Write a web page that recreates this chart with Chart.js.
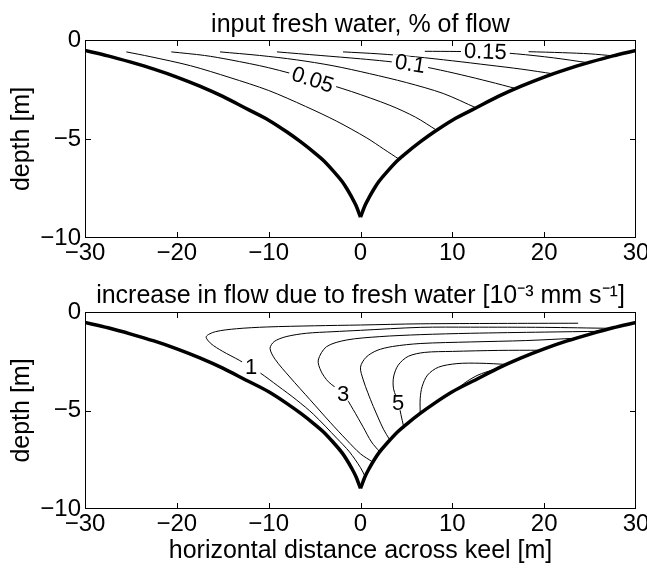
<!DOCTYPE html>
<html>
<head>
<meta charset="utf-8">
<script src="https://cdn.jsdelivr.net/npm/chart.js@4.4.1/dist/chart.umd.min.js"></script>
<style>
  body { margin: 0; background: #fff; }
  canvas { display: block; }
</style>
</head>
<body>
<canvas id="freshChart" width="647" height="270"></canvas>
<canvas id="flowChart" width="647" height="298"></canvas>
<script>

// keel profile (distance from keel centre, depth) - same on both sides
const keelDist  = [0, 0.5, 1, 1.5, 2, 3, 4, 5, 6.5, 8, 10, 12.5, 15, 17.5, 20, 22.5, 25, 27.5, 30];
const keelDepth = [-8.95, -8.35, -7.9, -7.5, -7.15, -6.6, -6.1, -5.7, -5.15, -4.65, -4.05, -3.45, -2.85, -2.33, -1.87, -1.47, -1.12, -0.8, -0.53];

// top panel: input fresh water, % of flow  (contours 0.025 ... 0.175)
const fresh025 = [[-25.5,-0.6],[-22.9,-0.84],[-18.5,-1.3],[-14.2,-1.9],[-10,-2.55],[-6,-3.35],[-2.6,-4.1],[0.7,-4.95],[2.5,-5.5],[4.2,-6.02]];
const fresh050 = [[-20.6,-0.6],[-17,-0.78],[-14.2,-1.0],[-10,-1.4],[-5.2,-2.0],[-1,-2.6],[3.2,-3.3],[6,-3.9],[8.3,-4.56]];
const fresh075 = [[-15.3,-0.6],[-11,-0.78],[-7,-1.0],[-3,-1.3],[1,-1.7],[5,-2.15],[9,-2.7],[12.6,-3.43]];
const fresh100 = [[-9.1,-0.6],[-4.4,-0.78],[0,-0.95],[2.7,-1.07],[5.4,-1.22],[8,-1.45],[11,-1.76],[14,-2.1],[16.9,-2.45]];
const fresh125 = [[-1.9,-0.6],[2,-0.7],[6,-0.85],[10,-1.05],[14,-1.27],[17.5,-1.47],[21,-1.71]];
const fresh150 = [[7.0,-0.57],[10.5,-0.58],[13.6,-0.6],[17,-0.7],[21,-0.9],[24.8,-1.15]];
const fresh175 = [[18.3,-0.59],[22,-0.64],[25,-0.7],[27.5,-0.8]];
const freshLabelText = ['0.05', '0.1', '0.15'];
const freshLabelAt   = [[-5.2,-2.0],[5.4,-1.2],[13.6,-0.58]];

// bottom panel: increase in flow due to fresh water [1e-3 mm/s]  (contours 1 ... 7)
const flow1 = [[23.7,-0.57],[15,-0.58],[6.5,-0.6],[0,-0.66],[-5,-0.7],[-10.2,-0.76],[-13.5,-0.85],[-15.8,-1.0],[-16.8,-1.25],[-16.3,-1.6],[-15,-2.0],[-13.2,-2.45],[-11.9,-2.82],[-10.9,-3.1],[-9,-3.75],[-6.95,-4.47],[-5.1,-5.2],[-2.6,-6.4],[-1.2,-7.1],[0,-7.9],[0.5,-8.35]];
const flow2 = [[27.3,-0.83],[20,-0.78],[12,-0.77],[6.5,-0.78],[0,-0.93],[-3,-1.0],[-5.9,-1.08],[-8.1,-1.25],[-9.4,-1.5],[-9.85,-1.85],[-9.3,-2.4],[-7.7,-3.3],[-5.5,-4.45],[-3.3,-5.6],[-1.5,-6.5],[0,-7.2],[1.35,-7.62]];
const flow3 = [[26.2,-0.98],[20,-1.02],[12,-1.08],[6.5,-1.15],[2.1,-1.25],[-1.5,-1.42],[-3.7,-1.76],[-4.6,-2.44],[-4.3,-3.0],[-3.5,-3.54],[-1.9,-4.15],[-0.8,-4.95],[0.3,-5.85],[1.2,-6.6],[2.1,-7.1]];
const flow4 = [[23.5,-1.33],[18,-1.45],[12,-1.52],[6.5,-1.6],[3.5,-1.75],[1.8,-1.95],[0.6,-2.3],[0,-2.8],[0.3,-3.45],[0.8,-4.1],[1.4,-4.8],[2.5,-5.95],[3.2,-6.5]];
const flow5 = [[19.6,-1.94],[15,-1.95],[10,-2.0],[7,-2.05],[5.2,-2.25],[4.1,-2.7],[3.6,-3.3],[3.6,-3.9],[4.15,-4.65],[4.4,-5.2],[4.7,-5.82]];
const flow6 = [[15.9,-2.66],[13,-2.6],[10.5,-2.62],[8.5,-2.8],[7.3,-3.2],[6.7,-3.8],[6.5,-4.4],[6.5,-5.15]];
const flow7 = [[10.3,-3.98],[11.5,-3.55],[12.8,-3.2],[14.3,-2.95],[15.5,-2.75]];
const flowLabelText = ['1', '3', '5'];
const flowLabelAt   = [[-11.9,-2.8],[-1.9,-4.15],[4.1,-4.63]];

// axis ticks
const xTicks = [-30, -20, -10, 0, 10, 20, 30];
const yTicks = [-10, -5, 0];


Chart.defaults.font.family = '"Liberation Sans", Arial, Helvetica, sans-serif';
Chart.defaults.font.size = 24;
Chart.defaults.color = '#000';

const LABEL_FONT = '22px "Liberation Sans", Arial, Helvetica, sans-serif';

function toPoints(pairs) {
    return pairs.map(p => ({ x: p[0], y: p[1] }));
}

function fmt(v) {
    return v < 0 ? '\u2212' + (-v) : String(v);
}

const keelLeft  = keelDist.map((d, i) => ({ x: -d, y: keelDepth[i] })).reverse();
const keelRight = keelDist.map((d, i) => ({ x: d,  y: keelDepth[i] }));

// box around plot + inward ticks like matlab
const boxTicks = {
    id: 'boxTicks',
    afterDraw(chart) {
        const { ctx, chartArea: a, scales: { x, y } } = chart;
        ctx.save();
        ctx.strokeStyle = '#000';
        ctx.lineWidth = 1;
        ctx.strokeRect(a.left + 0.5, a.top + 0.5, a.width - 1, a.height - 1);
        ctx.beginPath();
        xTicks.forEach(v => {
            if (v <= x.min || v >= x.max) return;
            const px = Math.round(x.getPixelForValue(v)) + 0.5;
            ctx.moveTo(px, a.bottom); ctx.lineTo(px, a.bottom - 6);
            ctx.moveTo(px, a.top);    ctx.lineTo(px, a.top + 6);
        });
        yTicks.forEach(v => {
            if (v <= y.min || v >= y.max) return;
            const py = Math.round(y.getPixelForValue(v)) + 0.5;
            ctx.moveTo(a.left, py);  ctx.lineTo(a.left + 6, py);
            ctx.moveTo(a.right, py); ctx.lineTo(a.right - 6, py);
        });
        ctx.stroke();
        ctx.restore();
    }
};

// contour labels sitting on the lines
const contourLabels = {
    id: 'contourLabels',
    afterDatasetsDraw(chart, args, opts) {
        const { ctx, scales: { x, y } } = chart;
        ctx.font = LABEL_FONT;
        ctx.textAlign = 'center';
        ctx.textBaseline = 'middle';
        opts.text.forEach((t, i) => {
            const px = x.getPixelForValue(opts.at[i][0]);
            const py = y.getPixelForValue(opts.at[i][1]);
            const w = ctx.measureText(t).width;
            ctx.save();
            ctx.translate(px, py);
            ctx.rotate((opts.angles[i] || 0) * Math.PI / 180);
            ctx.fillStyle = '#fff';
            ctx.fillRect(-w / 2 - 3, -7, w + 6, 14);
            ctx.fillStyle = '#000';
            ctx.fillText(t, 0, 1);
            ctx.restore();
        });
    }
};

function makeChart(id, title, contours, labelText, labelAt, angles, xTitle, xHeight, titlePad) {

    const datasets = contours.map(c => ({
        data: toPoints(c),
        borderColor: '#000',
        borderWidth: 1,
        pointRadius: 0,
        showLine: true,
        tension: 0.3
    }));

    [keelLeft, keelRight].forEach(k => datasets.push({
        data: k,
        borderColor: '#000',
        borderWidth: 3.5,
        pointRadius: 0,
        showLine: true,
        cubicInterpolationMode: 'monotone'
    }));

    return new Chart(document.getElementById(id), {
        type: 'scatter',
        data: { datasets },
        plugins: [contourLabels, boxTicks],
        options: {
            responsive: false,
            animation: false,
            layout: { padding: { left: 0, right: 11, top: 0, bottom: 0 } },
            plugins: {
                legend: { display: false },
                tooltip: { enabled: false },
                title: {
                    display: true,
                    fullSize: false,   // centre over the axes, not the canvas
                    text: title,
                    color: '#000',
                    font: { size: 25, weight: 'normal' },
                    padding: titlePad
                },
                contourLabels: { text: labelText, at: labelAt, angles: angles }
            },
            scales: {
                x: {
                    type: 'linear',
                    min: -30,
                    max: 30,
                    grid: { display: false, drawTicks: false },
                    border: { display: false },
                    afterBuildTicks: s => { s.ticks = xTicks.map(v => ({ value: v })); },
                    ticks: { padding: 1, maxRotation: 0, callback: fmt },
                    title: {
                        display: !!xTitle,
                        text: xTitle || '',
                        font: { size: 25 },
                        padding: { top: 0, bottom: 2 }
                    },
                    afterFit: s => {
                        s.height = xHeight;
                        s.paddingLeft = 0;
                        s.paddingRight = 0;
                    }
                },
                y: {
                    min: -10,
                    max: 0,
                    grid: { display: false, drawTicks: false },
                    border: { display: false },
                    afterBuildTicks: s => { s.ticks = yTicks.map(v => ({ value: v })); },
                    ticks: { padding: 4, callback: fmt },
                    title: {
                        display: true,
                        text: 'depth [m]',
                        font: { size: 25 },
                        padding: { top: 7, bottom: 0 }
                    },
                    afterFit: s => {
                        s.width = 85;
                        s.paddingTop = 0;
                        s.paddingBottom = 0;
                    }
                }
            }
        }
    });
}

// TOP PANEL
makeChart('freshChart', 'input fresh water, % of flow',
    [fresh025, fresh050, fresh075, fresh100, fresh125, fresh150, fresh175],
    freshLabelText, freshLabelAt, [18, 9, 2], null, 32, { top: 10, bottom: 0 });

// BOTTOM PANEL
makeChart('flowChart', 'increase in flow due to fresh water [10\u207B\u00B3 mm s\u207B\u00B9]',
    [flow1, flow2, flow3, flow4, flow5, flow6, flow7],
    flowLabelText, flowLabelAt, [0, 0, 0], 'horizontal distance across keel [m]', 59, { top: 11, bottom: 1 });

</script>
</body>
</html>
